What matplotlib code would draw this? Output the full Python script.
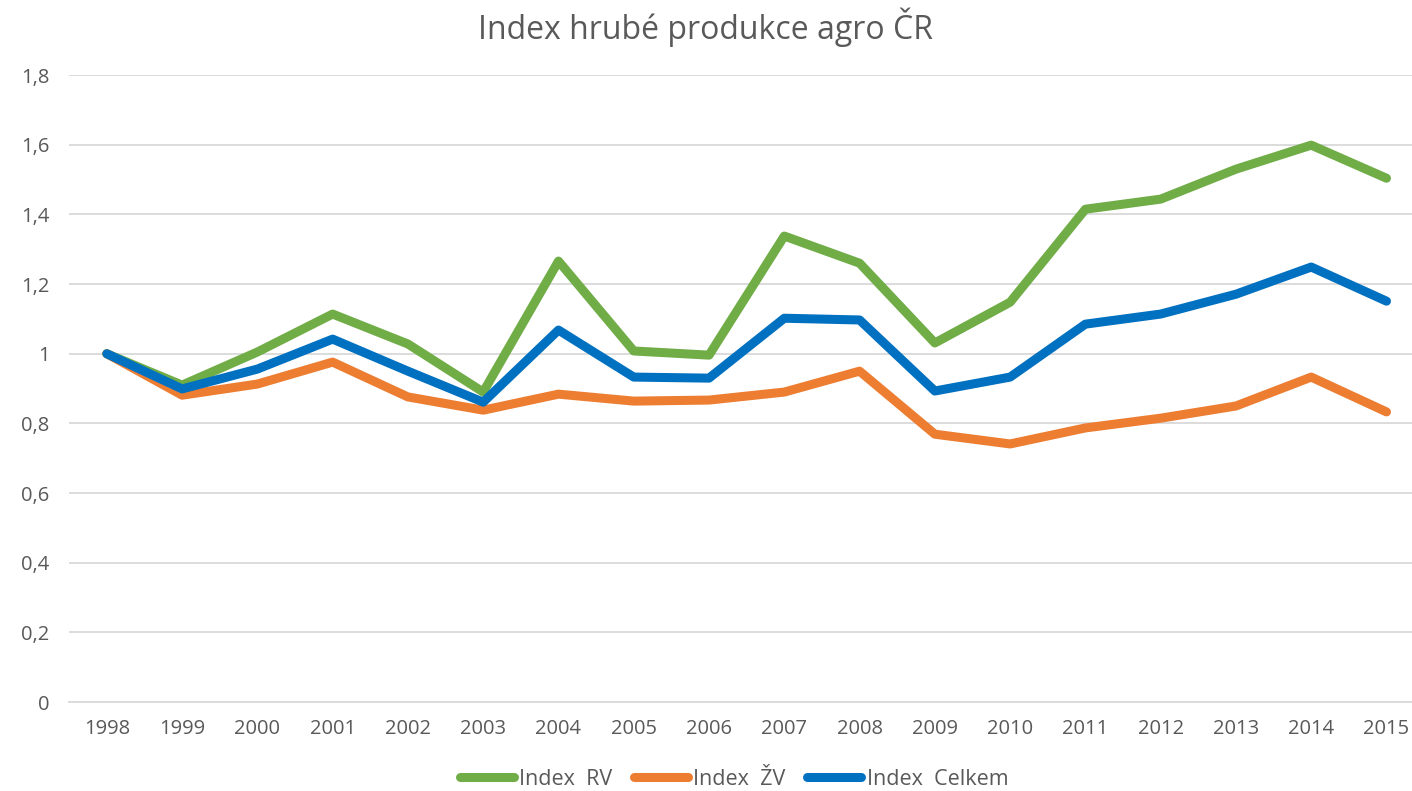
import matplotlib.pyplot as plt
import numpy as np

plt.rcParams['font.family'] = ['Open Sans', 'DejaVu Sans']

years = ['1998', '1999', '2000', '2001', '2002', '2003', '2004', '2005', '2006',
         '2007', '2008', '2009', '2010', '2011', '2012', '2013', '2014', '2015']
index_rv = [1.0, 0.91, 1.005, 1.114, 1.028, 0.89, 1.266, 1.008, 0.996,
            1.338, 1.26, 1.031, 1.148, 1.415, 1.444, 1.53, 1.599, 1.504]
index_zv = [1.0, 0.881, 0.913, 0.976, 0.876, 0.838, 0.884, 0.864, 0.867,
            0.89, 0.95, 0.769, 0.741, 0.787, 0.815, 0.85, 0.933, 0.833]
index_celkem = [1.0, 0.899, 0.956, 1.042, 0.95, 0.861, 1.068, 0.933, 0.930,
                1.102, 1.097, 0.893, 0.933, 1.085, 1.114, 1.171, 1.249, 1.151]

labels = ['Index  RV', 'Index  ŽV', 'Index  Celkem']
colors = ['#70AD47', '#ED7D31', '#0070C0']
text_color = '#595959'

fig = plt.figure(figsize=(14.12, 7.91), dpi=100)
ax = fig.add_axes([0.049, 0.1125, 0.9596, 0.7925])

x = np.arange(len(years))
for vals, lab, col in zip([index_rv, index_zv, index_celkem], labels, colors):
    ax.plot(x, vals, color=col, linewidth=6.5, label=lab,
            solid_capstyle='round', solid_joinstyle='round')

ax.set_xlim(-0.5, len(years) - 0.5)
ax.set_ylim(0, 1.8)
ax.set_xticks(x)
ax.set_xticklabels(years)
yt = np.arange(0, 1.81, 0.2)
ax.set_yticks(yt)
ax.set_yticklabels(['0' if v == 0 else ('1' if abs(v - 1) < 1e-9 else f'{v:.1f}'.replace('.', ',')) for v in yt])
ax.tick_params(axis='both', length=0, labelsize=14.5, colors=text_color)
ax.tick_params(axis='x', pad=12)
ax.tick_params(axis='y', pad=14)
ax.grid(axis='y', color='#D9D9D9', linewidth=1.3)
ax.set_axisbelow(True)
for s in ['top', 'right', 'left']:
    ax.spines[s].set_visible(False)
ax.spines['bottom'].set_color('#D9D9D9')
ax.spines['bottom'].set_linewidth(1.3)

fig.suptitle('Index hrubé produkce agro ČR', y=0.99, fontsize=23, color=text_color)

leg = fig.legend(loc='lower center', bbox_to_anchor=(0.52, -0.012), ncol=3, frameon=False,
                 fontsize=15.5, handlelength=2.5, handletextpad=0.25, columnspacing=1.0,
                 borderaxespad=0.1)
for t in leg.get_texts():
    t.set_color(text_color)

plt.savefig('out.png', dpi=100)
